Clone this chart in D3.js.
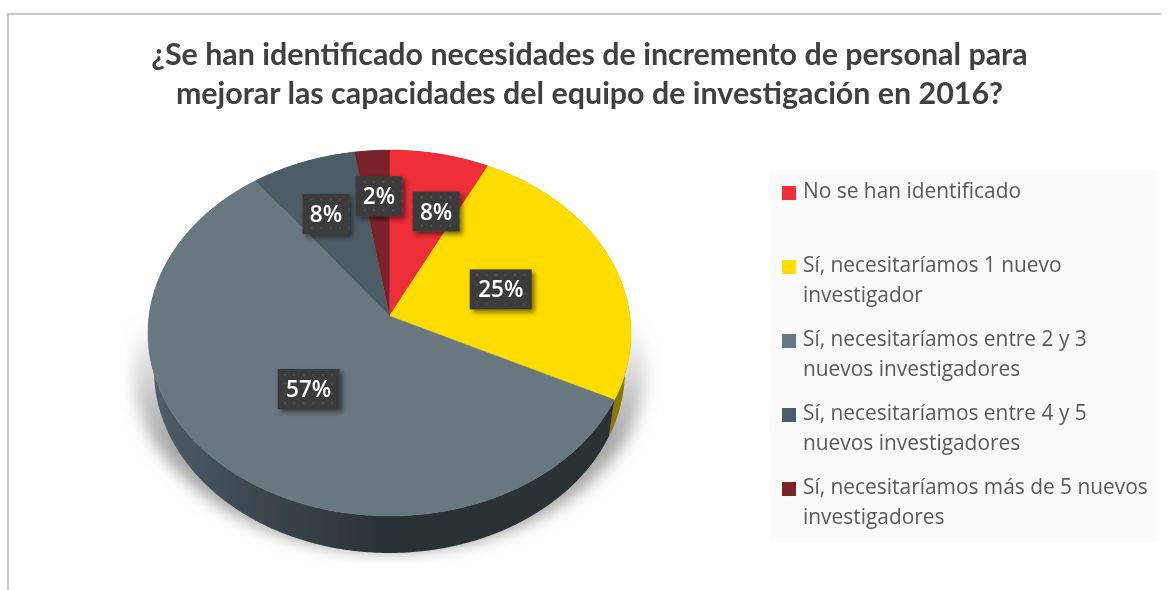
<!DOCTYPE html>
<html>
<head>
<meta charset="utf-8">
<script src="https://cdn.jsdelivr.net/npm/d3@7"></script>
<style>
html, body { margin: 0; padding: 0; background: #fff; overflow: hidden; }
svg { display: block; }
</style>
</head>
<body>
<div id="chart"></div>
<script>
// Chart data
var categories = [
	["No se han identificado"],
	["Sí, necesitaríamos 1 nuevo", "investigador"],
	["Sí, necesitaríamos entre 2 y 3", "nuevos investigadores"],
	["Sí, necesitaríamos entre 4 y 5", "nuevos investigadores"],
	["Sí, necesitaríamos más de 5 nuevos", "investigadores"]
];
var values = [7.3, 25, 57.5, 7.7, 2.5];
var valueLabels = ["8%", "25%", "57%", "8%", "2%"];
var titleLines = [
	"¿Se han identificado necesidades de incremento de personal para",
	"mejorar las capacidades del equipo de investigación en 2016?"
];

var colors = ["#ee2e38", "#ffdd00", "#69777e", "#4d5d67", "#7a2429"];
var wallColors = ["#7a1a1f", "#8a7800", "url(#wallGrad)", "#2c363c", "#3e1215"];
// labels were moved by hand in the original, offsets from the slice centroid
var labelNudge = [[13, 4], [-34, 10.5], [24, -22], [-6, 1], [1, -9]];

var W = 1169, H = 590;
var cx = 389.5, cy = 316;   // apex of the pie, not the middle of the ellipse
var rx = 240.5, ry = 181.4, persp = 0.093;
var depth = 37;

var svg = d3.select("#chart").append("svg")
	.attr("width", W)
	.attr("height", H)
	.style("font-family", "'Open Sans', sans-serif");

var defs = svg.append("defs");

var soft = defs.append("filter").attr("id", "soft")
	.attr("x", "-5%").attr("y", "-5%").attr("width", "110%").attr("height", "110%");
soft.append("feGaussianBlur").attr("stdDeviation", 0.55);

var shadowBlur = defs.append("filter").attr("id", "shadowBlur")
	.attr("x", "-20%").attr("y", "-20%").attr("width", "140%").attr("height", "140%");
shadowBlur.append("feGaussianBlur").attr("stdDeviation", 8);

var boxShadow = defs.append("filter").attr("id", "boxShadow")
	.attr("x", "-30%").attr("y", "-30%").attr("width", "170%").attr("height", "170%");
boxShadow.append("feDropShadow")
	.attr("dx", 3).attr("dy", 3).attr("stdDeviation", 2.5)
	.attr("flood-color", "#000").attr("flood-opacity", 0.5);

var wallGrad = defs.append("linearGradient").attr("id", "wallGrad")
	.attr("gradientUnits", "userSpaceOnUse")
	.attr("x1", 148).attr("x2", 631).attr("y1", 0).attr("y2", 0);
wallGrad.append("stop").attr("offset", "0%").attr("stop-color", "#515e68");
wallGrad.append("stop").attr("offset", "22%").attr("stop-color", "#3d474f");
wallGrad.append("stop").attr("offset", "50%").attr("stop-color", "#2a3136");
wallGrad.append("stop").attr("offset", "100%").attr("stop-color", "#2a3136");

var shadowGrad = defs.append("linearGradient").attr("id", "shadowGrad")
	.attr("gradientUnits", "userSpaceOnUse")
	.attr("x1", 0).attr("x2", 0).attr("y1", 320).attr("y2", 440);
shadowGrad.append("stop").attr("offset", "0%").attr("stop-color", "#a6a6a6").attr("stop-opacity", 0);
shadowGrad.append("stop").attr("offset", "100%").attr("stop-color", "#a6a6a6").attr("stop-opacity", 1);

var dots = defs.append("pattern").attr("id", "dots")
	.attr("patternUnits", "userSpaceOnUse")
	.attr("width", 9.5).attr("height", 9.5);
dots.append("rect").attr("width", 9.5).attr("height", 9.5).attr("fill", "#3b3b3b");
dots.append("rect").attr("x", 4).attr("y", 4).attr("width", 1.4).attr("height", 1.4).attr("fill", "#5a5a5a");

var clip = defs.append("clipPath").attr("id", "shadowClip");
clip.append("rect").attr("x", 120).attr("y", 300).attr("width", 540).attr("height", 262);

// unit disc -> screen, with a little perspective so the apex sits above the middle
function project(angle, f, dy, scale) {
	var u = Math.sin(angle) * f;
	var v = -Math.cos(angle) * f;
	var s = 1 / (1 - persp * v);
	return [cx + rx * u * s * (scale || 1), cy + ry * v * s + (dy || 0)];
}

var line = d3.line();

function arcPoints(a0, a1, dy, scale) {
	var n = Math.max(2, Math.ceil((a1 - a0) / 0.01));
	return d3.range(n + 1).map(function(i) {
		return project(a0 + (a1 - a0) * i / n, 1, dy, scale);
	});
}

var pie = d3.pie().sort(null)(values);

// Frame
svg.append("rect").attr("x", 8).attr("y", 13).attr("width", 1153).attr("height", 2).attr("fill", "#c6c6c6");
svg.append("rect").attr("x", 7).attr("y", 13).attr("width", 2).attr("height", H).attr("fill", "#c6c6c6");

var root = svg.append("g").attr("filter", "url(#soft)");

// Shadow under the pie
root.append("g").attr("clip-path", "url(#shadowClip)")
	.append("g").attr("filter", "url(#shadowBlur)")
	.append("path")
	.attr("d", line(arcPoints(0, 2 * Math.PI, 36, 1.06)) + "Z")
	.attr("fill", "url(#shadowGrad)");

// Side wall
root.append("g").selectAll("path")
	.data(pie)
	.join("path")
	.attr("d", function(d) {
		var top = arcPoints(d.startAngle, d.endAngle, 0, 1);
		var bottom = arcPoints(d.startAngle, d.endAngle, depth, 0.975).reverse();
		return line(top.concat(bottom)) + "Z";
	})
	.attr("fill", function(d, i) { return wallColors[i]; });

// Top face
root.append("g").selectAll("path")
	.data(pie)
	.join("path")
	.attr("d", function(d) {
		return line([[cx, cy]].concat(arcPoints(d.startAngle, d.endAngle, 0, 1))) + "Z";
	})
	.attr("fill", function(d, i) { return colors[i]; })
	.attr("stroke", function(d, i) { return colors[i]; })
	.attr("stroke-width", 0.4);

// Value labels
var labelW = 47, labelH = 40;
var labels = root.append("g").selectAll("g")
	.data(pie)
	.join("g")
	.attr("transform", function(d, i) {
		var p = project((d.startAngle + d.endAngle) / 2, 0.65);
		return "translate(" + (p[0] + labelNudge[i][0]) + "," + (p[1] + labelNudge[i][1]) + ")";
	});

labels.append("rect")
	.attr("x", function(d, i) { return -(valueLabels[i].length > 2 ? 62 : labelW) / 2; })
	.attr("y", -labelH / 2)
	.attr("width", function(d, i) { return valueLabels[i].length > 2 ? 62 : labelW; })
	.attr("height", labelH)
	.attr("fill", "url(#dots)")
	.attr("filter", "url(#boxShadow)");

labels.append("text")
	.attr("text-anchor", "middle")
	.attr("y", 8)
	.attr("fill", "#fff")
	.style("font-size", "22.5px")
	.style("font-weight", "600")
	.text(function(d, i) { return valueLabels[i]; });

// Title
root.append("g").selectAll("text")
	.data(titleLines)
	.join("text")
	.attr("x", 589.5)
	.attr("y", function(d, i) { return 65 + i * 39; })
	.attr("text-anchor", "middle")
	.attr("fill", "#404040")
	.style("font-family", "Lato, sans-serif")
	.style("font-weight", "700")
	.style("font-size", "30.4px")
	.text(function(d) { return d; });

// Legend
root.append("rect")
	.attr("x", 770).attr("y", 170)
	.attr("width", 387).attr("height", 372)
	.attr("fill", "#fafafa");

var legendY = d3.scalePoint()
	.domain(d3.range(categories.length))
	.range([193, 489]);

var legend = root.append("g").selectAll("g")
	.data(categories)
	.join("g")
	.attr("transform", function(d, i) { return "translate(782," + legendY(i) + ")"; });

legend.append("rect")
	.attr("y", -7)
	.attr("width", 14)
	.attr("height", 14)
	.attr("fill", function(d, i) { return colors[i]; });

legend.selectAll("text")
	.data(function(d) { return d; })
	.join("text")
	.attr("x", 21)
	.attr("y", function(d, i) { return 5 + i * 30; })
	.attr("fill", "#595959")
	.style("font-size", "20.9px")
	.text(function(d) { return d; });
</script>
</body>
</html>
